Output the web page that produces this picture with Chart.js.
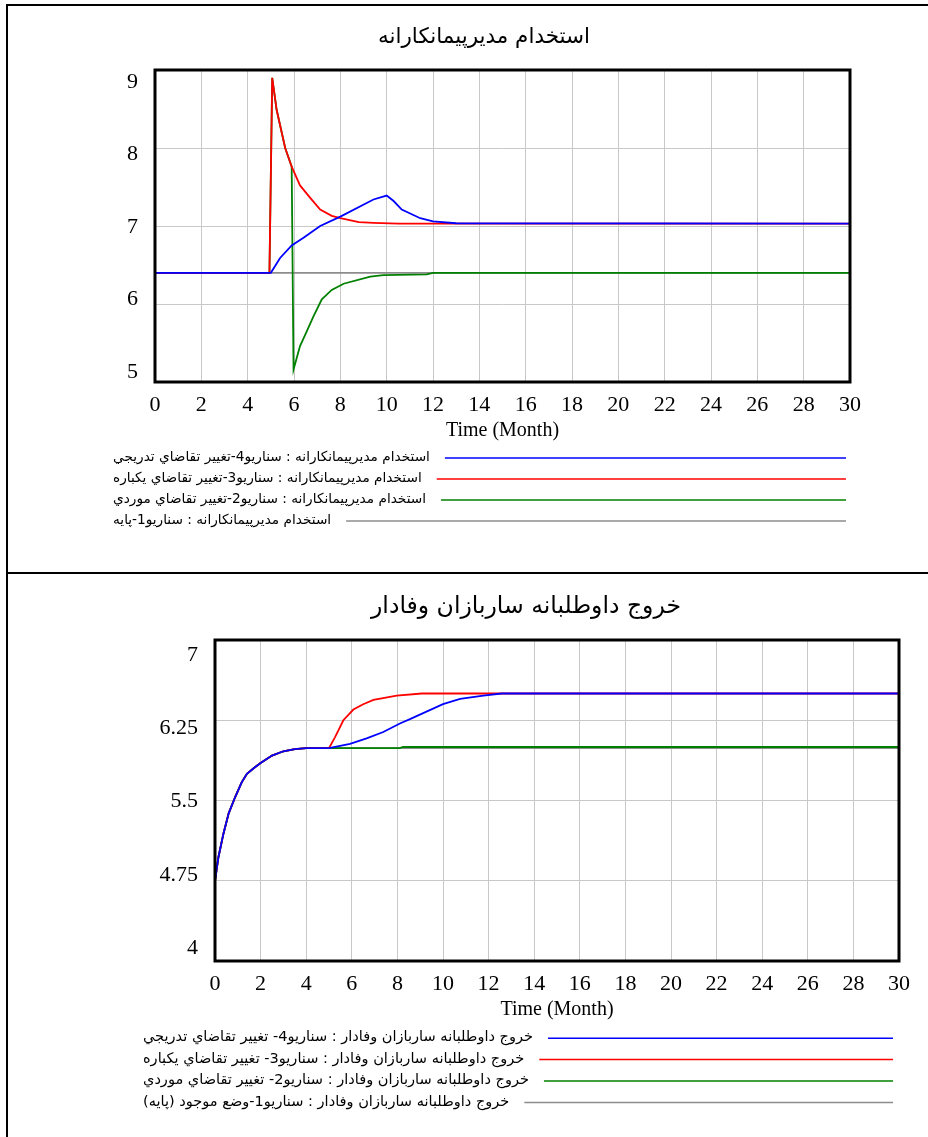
<!DOCTYPE html>
<html>
<head>
<meta charset="utf-8">
<script src="https://cdn.jsdelivr.net/npm/chart.js@4/dist/chart.umd.min.js"></script>
<style>
  html, body { margin: 0; padding: 0; background: #fff; }
  #page { position: relative; width: 928px; height: 1137px; overflow: hidden; }
  canvas { position: absolute; left: 0; display: block; }
  #hireChart { top: 0; }
  #exitChart { top: 573px; }
  .rule { position: absolute; background: #000; z-index: 2; }
</style>
</head>
<body>
<div id="page">
  <canvas id="hireChart" width="928" height="573"></canvas>
  <canvas id="exitChart" width="928" height="564"></canvas>
  <div class="rule" style="left:7px; top:4px; width:921px; height:2px;"></div>
  <div class="rule" style="left:6px; top:4px; width:2px; height:1133px;"></div>
  <div class="rule" style="left:7px; top:572px; width:921px; height:2px;"></div>
</div>
<script>
// ---- chart 1: استخدام مدیرپیمانکارانه (month, value) ----
const hireTitle = 'استخدام مدیرپیمانکارانه';
const hireLabels = [
    'استخدام مدیرپیمانکارانه : سناریو4-تغییر تقاضاي تدریجي',
    'استخدام مدیرپیمانکارانه : سناریو3-تغییر تقاضاي یکباره',
    'استخدام مدیرپیمانکارانه : سناریو2-تغییر تقاضاي موردي',
    'استخدام مدیرپیمانکارانه : سناریو1-پایه'
];
const hireGradualT = [0, 5, 5.4, 5.9, 6.41, 7.13, 8, 9.43, 10, 10.3, 10.65, 11.45, 12, 13, 30];
const hireGradualV = [6.4, 6.4, 6.59, 6.75, 6.85, 7.0, 7.12, 7.34, 7.39, 7.32, 7.21, 7.1, 7.06, 7.035, 7.03];
const hireStepT = [0, 4.94, 5.06, 5.25, 5.62, 5.9, 6.26, 6.7, 7.13, 7.63, 8, 8.8, 9.43, 10.5, 30];
const hireStepV = [6.4, 6.4, 8.9, 8.49, 8.0, 7.76, 7.52, 7.36, 7.21, 7.13, 7.1, 7.05, 7.04, 7.03, 7.03];
const hirePulseT = [0, 4.94, 5.06, 5.25, 5.62, 5.9, 5.98, 6.26, 6.55, 6.84, 7.2, 7.63, 8.14, 9.29, 9.86, 11.73, 12, 30];
const hirePulseV = [6.4, 6.4, 8.9, 8.49, 8.0, 7.76, 5.16, 5.46, 5.65, 5.84, 6.06, 6.18, 6.26, 6.35, 6.37, 6.38, 6.4, 6.4];
const hireBaseT = [0, 30];
const hireBaseV = [6.4, 6.4];

// ---- chart 2: خروج داوطلبانه ساربازان وفادار ----
const exitTitle = 'خروج داوطلبانه ساربازان وفادار';
const exitLabels = [
    'خروج داوطلبانه ساربازان وفادار : سناریو4- تغییر تقاضاي تدریجي',
    'خروج داوطلبانه ساربازان وفادار : سناریو3- تغییر تقاضاي یکباره',
    'خروج داوطلبانه ساربازان وفادار : سناریو2- تغییر تقاضاي موردي',
    'خروج داوطلبانه ساربازان وفادار : سناریو1-وضع موجود (پایه)'
];
// all scenarios share the first five months
const exitSharedT = [0, 0.15, 0.37, 0.6, 0.88, 1.17, 1.4, 1.75, 2, 2.5, 3, 3.5, 4, 5];
const exitSharedV = [4.75, 4.97, 5.19, 5.38, 5.53, 5.67, 5.75, 5.81, 5.85, 5.92, 5.96, 5.98, 5.99, 5.99];
const exitGradualT = [5.92, 6.65, 7.38, 8.11, 8.55, 10, 10.75, 11.77, 12.57, 30];
const exitGradualV = [6.03, 6.08, 6.14, 6.22, 6.26, 6.4, 6.45, 6.48, 6.5, 6.5];
const exitStepT = [5.26, 5.63, 6.07, 6.5, 6.95, 7.97, 9.07, 30];
const exitStepV = [6.09, 6.25, 6.35, 6.4, 6.44, 6.48, 6.5, 6.5];
const exitPulseT = [8.1, 8.25, 30];
const exitPulseV = [5.99, 6.0, 6.0];
const exitBaseT = [30];
const exitBaseV = [5.99];

const colors = ['#0000ff', '#ff0000', '#008000', '#8c8c8c'];

function series(ts, vs) {
    return ts.map((t, i) => ({ x: t, y: vs[i] }));
}

function fitFont(ctx, text, width) {
    ctx.font = '20px "DejaVu Sans"';
    const size = 20 * width / ctx.measureText(text).width;
    return size.toFixed(2) + 'px "DejaVu Sans"';
}

// frame, y labels, titles and the Vensim style legend
const vensimDecor = {
    id: 'vensimDecor',
    afterDraw(chart, args, o) {
        const ctx = chart.ctx;
        const a = chart.chartArea;
        const ys = chart.scales.y;
        ctx.save();

        ctx.strokeStyle = '#000';
        ctx.lineWidth = 3;
        ctx.strokeRect(a.left, a.top, a.right - a.left, a.bottom - a.top);

        // tick labels sit a bit inside the frame at top and bottom
        ctx.fillStyle = '#000';
        ctx.font = '22px "Liberation Serif"';
        ctx.textAlign = 'right';
        ctx.textBaseline = 'middle';
        const h = a.bottom - a.top;
        const k = (h - o.yLabelTop - o.yLabelBottom) / h;
        ys.ticks.forEach(t => {
            const p = ys.getPixelForValue(t.value);
            const txt = String(+t.value.toFixed(2));
            ctx.fillText(txt, a.left - 17, a.top + o.yLabelTop + (p - a.top) * k);
        });

        ctx.font = '20px "Liberation Serif"';
        ctx.textAlign = 'center';
        ctx.fillText('Time (Month)', (a.left + a.right) / 2, a.bottom + 49);

        ctx.direction = 'rtl';
        ctx.font = fitFont(ctx, o.title, o.titleWidth);
        ctx.fillText(o.title, o.titleX, o.titleY);

        const rows = chart.data.datasets;
        ctx.font = fitFont(ctx, rows[0].label, o.legendWidth);
        ctx.textAlign = 'left';
        rows.forEach((ds, i) => {
            const y = o.legendTop + i * o.legendStep;
            const w = ctx.measureText(ds.label).width;
            ctx.fillText(ds.label, o.legendLeft, y);
            ctx.beginPath();
            ctx.strokeStyle = ds.borderColor;
            ctx.lineWidth = 1.5;
            ctx.moveTo(o.legendLeft + w + 15, y + 0.5);
            ctx.lineTo(o.legendRight, y + 0.5);
            ctx.stroke();
        });
        ctx.restore();
    }
};

function makeChart(id, labels, data, cfg) {
    const datasets = data.map((d, i) => ({
        label: labels[i],
        data: d,
        borderColor: colors[i],
        borderWidth: 1.8,
        pointRadius: 0,
        tension: 0,
        fill: false
    }));
    return new Chart(document.getElementById(id), {
        type: 'line',
        data: { datasets },
        plugins: [vensimDecor],
        options: {
            responsive: false,
            animation: false,
            layout: { padding: cfg.padding },
            plugins: {
                legend: { display: false },
                tooltip: { enabled: false },
                vensimDecor: cfg.decor
            },
            scales: {
                x: {
                    type: 'linear',
                    min: 0,
                    max: 30,
                    ticks: {
                        stepSize: 2,
                        color: '#000',
                        padding: 10,
                        font: { family: 'Liberation Serif', size: 22 }
                    },
                    grid: { color: '#c8c8c8', drawTicks: false },
                    border: { display: false },
                    afterFit: s => { s.height = 40; }
                },
                y: {
                    min: cfg.yMin,
                    max: cfg.yMax,
                    ticks: { stepSize: cfg.yStep, display: false },
                    grid: { color: '#c8c8c8', drawTicks: false },
                    border: { display: false },
                    afterFit: s => { s.width = cfg.left; }
                }
            }
        }
    });
}

makeChart('hireChart', hireLabels, [
    series(hireGradualT, hireGradualV),
    series(hireStepT, hireStepV),
    series(hirePulseT, hirePulseV),
    series(hireBaseT, hireBaseV)
], {
    left: 155,
    padding: { left: 0, top: 70, right: 78, bottom: 151 },
    yMin: 5, yMax: 9, yStep: 1,
    decor: {
        yLabelTop: 12, yLabelBottom: 10,
        title: hireTitle, titleX: 484, titleY: 37, titleWidth: 212,
        legendLeft: 113, legendRight: 846, legendWidth: 317,
        legendTop: 457.5, legendStep: 21
    }
});

makeChart('exitChart', exitLabels, [
    series(exitSharedT.concat(exitGradualT), exitSharedV.concat(exitGradualV)),
    series(exitSharedT.concat(exitStepT), exitSharedV.concat(exitStepV)),
    series(exitSharedT.concat(exitPulseT), exitSharedV.concat(exitPulseV)),
    series(exitSharedT.concat(exitBaseT), exitSharedV.concat(exitBaseV))
], {
    left: 215,
    padding: { left: 0, top: 67, right: 29, bottom: 136 },
    yMin: 4, yMax: 7, yStep: 0.75,
    decor: {
        yLabelTop: 15, yLabelBottom: 13,
        title: exitTitle, titleX: 526, titleY: 34, titleWidth: 310,
        legendLeft: 143, legendRight: 893, legendWidth: 390,
        legendTop: 464.7, legendStep: 21.4
    }
});
</script>
</body>
</html>
